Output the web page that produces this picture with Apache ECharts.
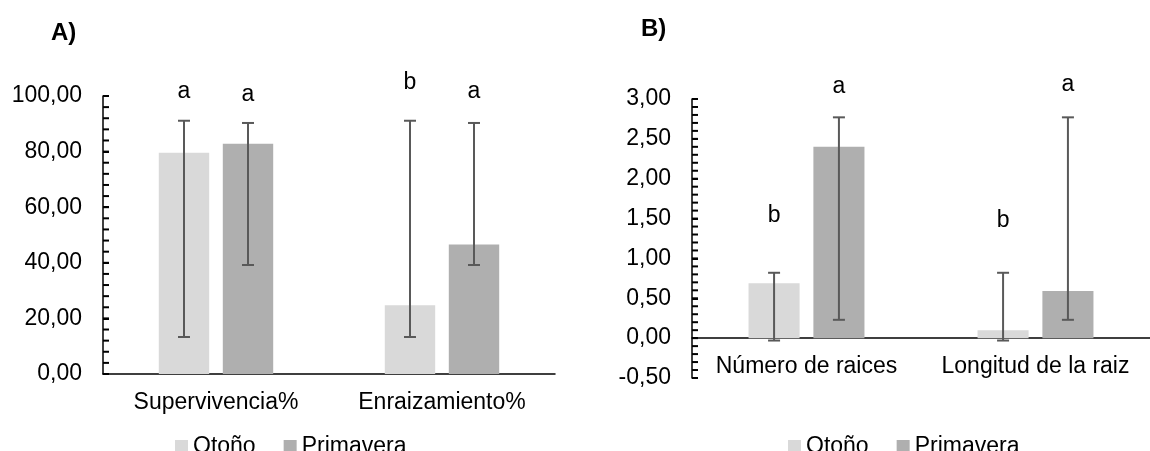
<!DOCTYPE html>
<html>
<head>
<meta charset="utf-8">
<script src="https://cdn.jsdelivr.net/npm/echarts@6/dist/echarts.min.js"></script>
<style>
  html, body { margin: 0; padding: 0; background: #fff; }
  #chart { width: 1150px; height: 451px; }
</style>
</head>
<body>
<div id="chart"></div>
<script>
// Panel A: survival and rooting percentages
const categoriesA = ['Supervivencia%', 'Enraizamiento%'];
const otonoA = [79.6, 24.7];
const primaveraA = [82.8, 46.6];
const otonoA_hi = [91.1, 91.1];
const otonoA_lo = [13.3, 13.3];
const primaveraA_hi = [90.3, 90.3];
const primaveraA_lo = [39.2, 39.2];
const lettersOtonoA = ['a', 'b'];
const lettersPrimaveraA = ['a', 'a'];
const letterLevelOtonoA = [101.4, 104.8];
const letterLevelPrimaveraA = [100.5, 101.4];
// y axis: range, labelled step, tick step
const axisA = { min: 0, max: 100, major: 20, minor: 4 };

// Panel B: root number and root length
const categoriesB = ['Número de raices', 'Longitud de la raiz'];
const otonoB = [0.69, 0.10];
const primaveraB = [2.40, 0.59];
const otonoB_hi = [0.82, 0.82];
const otonoB_lo = [-0.03, -0.03];
const primaveraB_hi = [2.77, 2.77];
const primaveraB_lo = [0.23, 0.23];
const lettersOtonoB = ['b', 'b'];
const lettersPrimaveraB = ['a', 'a'];
const letterLevelOtonoB = [1.54, 1.47];
const letterLevelPrimaveraB = [3.15, 3.18];
const axisB = { min: -0.5, max: 3, major: 0.5, minor: 0.1 };

const seriesNames = ['Otoño', 'Primavera'];
const colors = ['#d9d9d9', '#afafaf'];

const FONT = "'Liberation Sans', Arial, sans-serif";
const FS = 23;
const BAR_W = 0.223;   // bar width as a share of the category band
const BAR_GAP = 0.27;  // gap between the two bars, as a share of bar width
const TICK_LEN = 6;

const gridA = { left: 103, top: 96, width: 452, height: 278 };
const gridB = { left: 692, top: 99, width: 472, height: 279 };

function errorSeries(name, gridIdx, lo, hi, letterLevel, letters, side) {
  return {
    type: 'custom',
    name: name,
    xAxisIndex: gridIdx,
    yAxisIndex: gridIdx,
    z: 5,
    silent: true,
    data: lo.map((l, i) => [i, l, hi[i], letterLevel[i]]),
    renderItem: function (params, api) {
      const i = api.value(0);
      const band = api.size([1, 0])[0];
      const w = band * BAR_W;
      const off = side * (w + w * BAR_GAP) / 2;
      const top = api.coord([i, api.value(2)]);
      const bot = api.coord([i, api.value(1)]);
      const lab = api.coord([i, api.value(3)]);
      const x = top[0] + off;
      const cap = 6;
      const st = { stroke: '#595959', lineWidth: 2 };
      return {
        type: 'group',
        children: [
          { type: 'line', shape: { x1: x, y1: top[1], x2: x, y2: bot[1] }, style: st },
          { type: 'line', shape: { x1: x - cap, y1: top[1], x2: x + cap, y2: top[1] }, style: st },
          { type: 'line', shape: { x1: x - cap, y1: bot[1], x2: x + cap, y2: bot[1] }, style: st },
          {
            type: 'text', x: x, y: lab[1],
            style: {
              text: letters[params.dataIndex], fill: '#000',
              fontSize: FS, fontFamily: FONT,
              align: 'center', verticalAlign: 'middle'
            }
          }
        ]
      };
    }
  };
}

// Fine tick marks along the value axis, one at every minor step,
// drawn as one path through the panel's own scales
function tickSeries(gridIdx, ax) {
  const n = Math.round((ax.max - ax.min) / ax.minor);
  const values = [];
  for (let k = 0; k <= n; k++) values.push(+(ax.min + k * ax.minor).toFixed(6));
  return {
    type: 'custom',
    xAxisIndex: gridIdx,
    yAxisIndex: gridIdx,
    z: 10,
    silent: true,
    clip: false,
    data: [[0, ax.min]],
    renderItem: function (params, api) {
      const x0 = params.coordSys.x;
      const children = values.map(v => {
        const y = api.coord([0, v])[1];
        return {
          type: 'rect',
          shape: { x: x0, y: y - 1, width: TICK_LEN, height: 2 },
          style: { fill: '#000' }
        };
      });
      return { type: 'group', children: children };
    }
  };
}

function barSeries(name, gridIdx, values, color) {
  return {
    type: 'bar',
    name: name,
    xAxisIndex: gridIdx,
    yAxisIndex: gridIdx,
    data: values,
    barWidth: (BAR_W * 100) + '%',
    barGap: (BAR_GAP * 100) + '%',
    itemStyle: { color: color },
    emphasis: { disabled: true }
  };
}

// Category axis sitting on the value 0 of its panel
function catAxis(gridIdx, cats, grid, ax) {
  const zeroShift = grid.height * (0 - ax.min) / (ax.max - ax.min);
  return {
    type: 'category',
    gridIndex: gridIdx,
    data: cats,
    position: 'bottom',
    offset: -zeroShift,
    axisLine: { onZero: false, lineStyle: { color: '#000', width: 1.5 } },
    axisTick: { show: false },
    axisLabel: { color: '#000', fontSize: FS, fontFamily: FONT, margin: 17, interval: 0 }
  };
}

// Labelled value axis (major steps)
function valAxis(gridIdx, ax) {
  return {
    type: 'value',
    gridIndex: gridIdx,
    position: 'left',
    min: ax.min, max: ax.max, interval: ax.major,
    axisLine: { show: true, onZero: false, lineStyle: { color: '#000', width: 1.5 } },
    axisTick: { show: true, inside: true, length: TICK_LEN, lineStyle: { color: '#000', width: 2 } },
    splitLine: { show: false },
    axisLabel: {
      color: '#000', fontSize: FS, fontFamily: FONT, margin: 21,
      formatter: v => v.toFixed(2).replace('.', ',')
    }
  };
}

const chart = echarts.init(document.getElementById('chart'), null, { renderer: 'canvas' });

chart.setOption({
  animation: false,
  backgroundColor: '#fff',
  textStyle: { fontFamily: FONT },
  title: [
    { text: 'A)', left: 46, top: 16, textStyle: { fontSize: 24, fontWeight: 'bold', color: '#000', fontFamily: FONT } },
    { text: 'B)', left: 636, top: 12, textStyle: { fontSize: 24, fontWeight: 'bold', color: '#000', fontFamily: FONT } }
  ],
  legend: [
    {
      data: seriesNames, left: 170, top: 430, icon: 'rect',
      itemWidth: 13, itemHeight: 13, itemGap: 28,
      textStyle: { fontSize: FS, color: '#000', fontFamily: FONT },
      selectedMode: false
    },
    {
      data: seriesNames, left: 783, top: 430, icon: 'rect',
      itemWidth: 13, itemHeight: 13, itemGap: 28,
      textStyle: { fontSize: FS, color: '#000', fontFamily: FONT },
      selectedMode: false
    }
  ],
  grid: [
    Object.assign({ containLabel: false }, gridA),
    Object.assign({ containLabel: false }, gridB)
  ],
  xAxis: [catAxis(0, categoriesA, gridA, axisA), catAxis(1, categoriesB, gridB, axisB)],
  yAxis: [valAxis(0, axisA), valAxis(1, axisB)],
  series: [
    barSeries(seriesNames[0], 0, otonoA, colors[0]),
    barSeries(seriesNames[1], 0, primaveraA, colors[1]),
    errorSeries('errOtonoA', 0, otonoA_lo, otonoA_hi, letterLevelOtonoA, lettersOtonoA, -1),
    errorSeries('errPrimaveraA', 0, primaveraA_lo, primaveraA_hi, letterLevelPrimaveraA, lettersPrimaveraA, 1),
    tickSeries(0, axisA),
    barSeries(seriesNames[0], 1, otonoB, colors[0]),
    barSeries(seriesNames[1], 1, primaveraB, colors[1]),
    errorSeries('errOtonoB', 1, otonoB_lo, otonoB_hi, letterLevelOtonoB, lettersOtonoB, -1),
    errorSeries('errPrimaveraB', 1, primaveraB_lo, primaveraB_hi, letterLevelPrimaveraB, lettersPrimaveraB, 1),
    tickSeries(1, axisB)
  ]
});
</script>
</body>
</html>
